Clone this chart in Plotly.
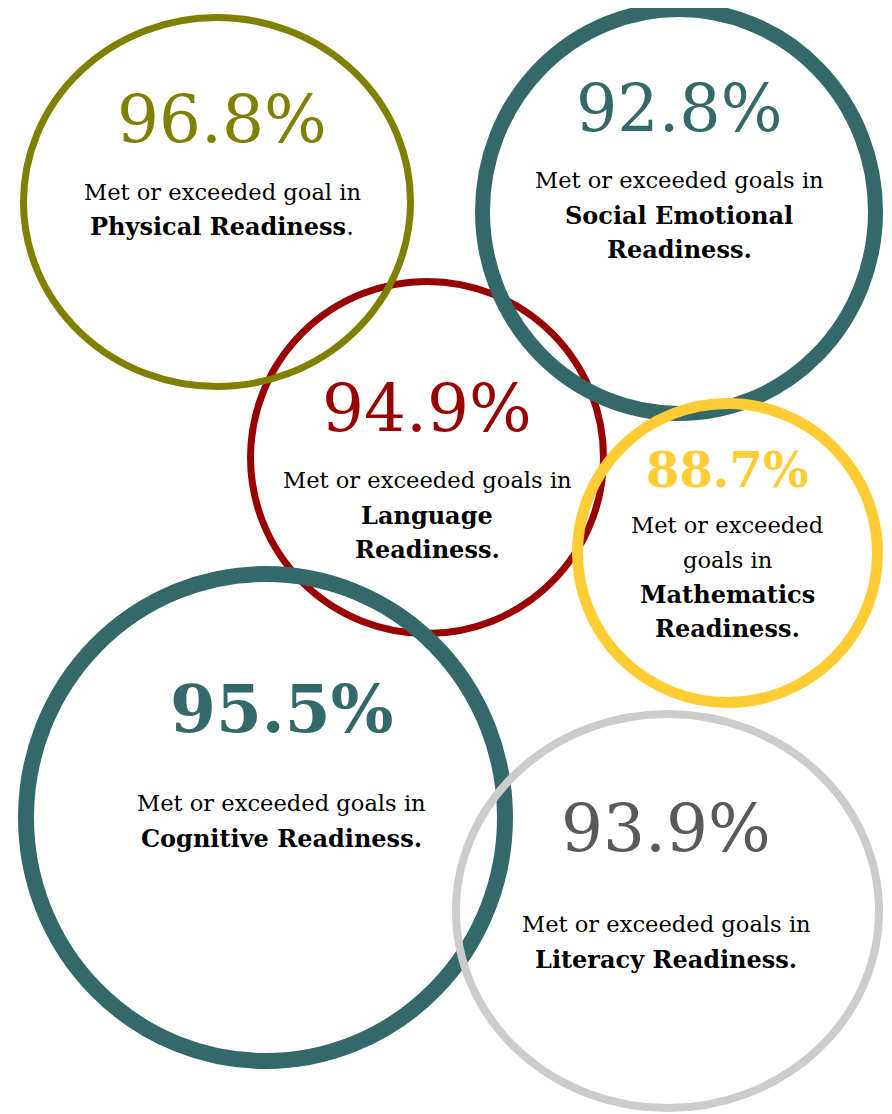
import plotly.graph_objects as go

# ---- data ----
values = ["96.8%", "92.8%", "94.9%", "88.7%", "95.5%", "93.9%"]
domains = ["Physical", "Social Emotional", "Language", "Mathematics", "Cognitive", "Literacy"]
lead_lines = [
    ["Met or exceeded goal in"],
    ["Met or exceeded goals in"],
    ["Met or exceeded goals in"],
    ["Met or exceeded", "goals in"],
    ["Met or exceeded goals in"],
    ["Met or exceeded goals in"],
]
bold_lines = [
    ["<b>Physical Readiness</b>."],
    ["<b>Social Emotional</b>", "<b>Readiness.</b>"],
    ["<b>Language</b>", "<b>Readiness.</b>"],
    ["<b>Mathematics</b>", "<b>Readiness.</b>"],
    ["<b>Cognitive Readiness.</b>"],
    ["<b>Literacy Readiness.</b>"],
]

# ---- layout / style ----
ring_colors = ["#808000", "#336A69", "#990000", "#FFCC33", "#336A69", "#CCCCCC"]
num_colors = ["#808000", "#336A69", "#990000", "#FFCC33", "#336A69", "#595959"]
num_bold = [False, False, False, True, True, False]
ring_widths = [7, 15, 7, 11, 16, 8]
# ring boxes (x0, x1, y0, y1) in page pixels (stroke centre)
ring_boxes = [
    (23.5, 410.5, 17.5, 386.5),
    (482.5, 875.5, 9.5, 413.5),
    (250.5, 603.5, 281.5, 633.5),
    (577.5, 877.5, 403.5, 702.5),
    (26, 505, 574, 1061),
    (456, 879, 714, 1108),
]
text_x = [222, 679, 427, 727, 281, 666]
num_y = [119, 108, 408, 470, 709, 828]
line_y = [
    [192, 226],
    [180, 215, 249],
    [480, 515, 549],
    [525, 560, 594, 628],
    [803, 838],
    [924, 959],
]
num_sizes = [66, 65, 66, 48, 66, 66]
body_size = 22.6
bold_size = 24
FONT = "Georgia, 'DejaVu Serif', serif"
PAGE_OFFSET = 8  # default body margin of the html page

fig = go.Figure()
fig.add_trace(go.Scatter(x=[PAGE_OFFSET, 892], y=[PAGE_OFFSET, 1114], mode="markers",
                         marker=dict(opacity=0), hoverinfo="skip", showlegend=False))

order = [2, 0, 1, 3, 4, 5]
for i in order:
    x0, x1, y0, y1 = ring_boxes[i]
    fig.add_shape(type="circle", xref="x", yref="y", x0=x0, x1=x1, y0=y0, y1=y1,
                  line=dict(color=ring_colors[i], width=ring_widths[i]),
                  fillcolor="rgba(0,0,0,0)", layer="above")

for i in range(len(values)):
    txt = f"<b>{values[i]}</b>" if num_bold[i] else values[i]
    fig.add_annotation(x=text_x[i], y=num_y[i], text=txt, showarrow=False,
                       xanchor="center", yanchor="middle",
                       font=dict(family=FONT, size=num_sizes[i], color=num_colors[i]))
    for ln, yy in zip(lead_lines[i], line_y[i][:len(lead_lines[i])]):
        fig.add_annotation(x=text_x[i], y=yy, text=ln, showarrow=False,
                           xanchor="center", yanchor="middle",
                           font=dict(family=FONT, size=body_size, color="#000000"))
    for ln, yy in zip(bold_lines[i], line_y[i][len(lead_lines[i]):]):
        fig.add_annotation(x=text_x[i], y=yy, text=ln, showarrow=False,
                           xanchor="center", yanchor="middle",
                           font=dict(family=FONT, size=bold_size, color="#000000"))

fig.update_layout(
    width=892 - PAGE_OFFSET, height=1114 - PAGE_OFFSET,
    margin=dict(l=0, r=0, t=0, b=0),
    paper_bgcolor="white", plot_bgcolor="white",
    xaxis=dict(range=[PAGE_OFFSET, 892], visible=False, fixedrange=True),
    yaxis=dict(range=[1114, PAGE_OFFSET], visible=False, fixedrange=True),
    showlegend=False,
)

fig.write_html("out.html")
